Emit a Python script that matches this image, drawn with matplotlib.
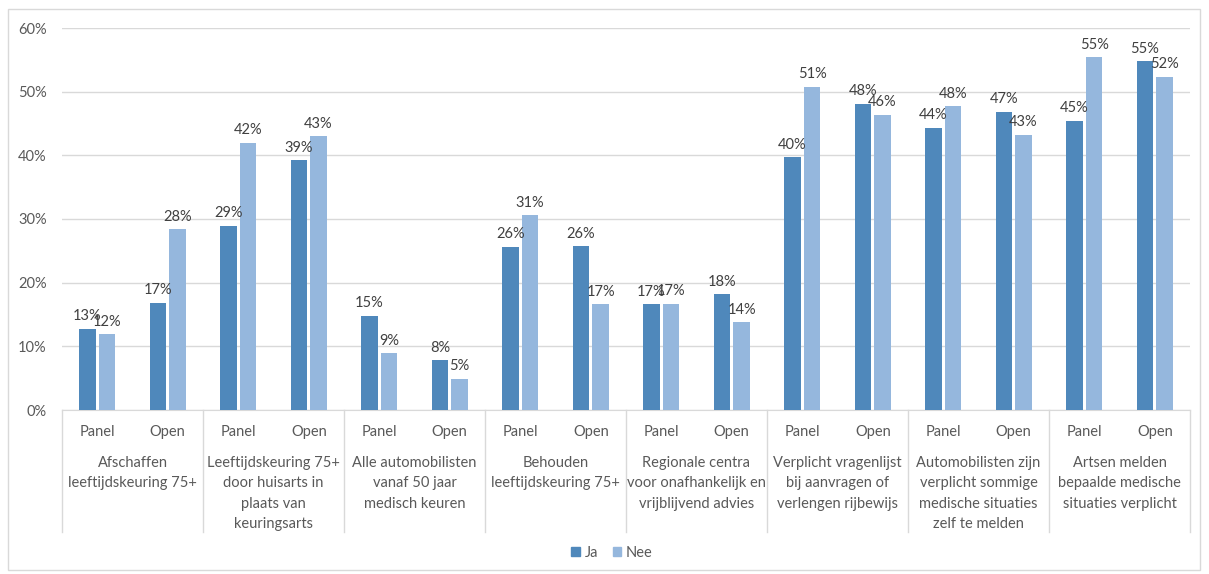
import matplotlib.pyplot as plt
import matplotlib.transforms as mtransforms
from matplotlib.patches import Rectangle, Patch

plt.rcParams['font.family'] = ['Lato', 'DejaVu Sans']

# data (percent)
groups = [
    "Afschaffen\nleeftijdskeuring 75+",
    "Leeftijdskeuring 75+\ndoor huisarts in\nplaats van\nkeuringsarts",
    "Alle automobilisten\nvanaf 50 jaar\nmedisch keuren",
    "Behouden\nleeftijdskeuring 75+",
    "Regionale centra\nvoor onafhankelijk en\nvrijblijvend advies",
    "Verplicht vragenlijst\nbij aanvragen of\nverlengen rijbewijs",
    "Automobilisten zijn\nverplicht sommige\nmedische situaties\nzelf te melden",
    "Artsen melden\nbepaalde medische\nsituaties verplicht",
]
subgroups = ["Panel", "Open"]
ja = [12.8, 16.8, 28.9, 39.2, 14.8, 7.8, 25.6, 25.7,
      16.6, 18.2, 39.7, 48.1, 44.3, 46.8, 45.4, 54.8]
nee = [11.9, 28.4, 42.0, 43.0, 8.9, 4.9, 30.6, 16.6,
       16.7, 13.8, 50.8, 46.4, 47.7, 43.2, 55.4, 52.3]
yticks = [0, 10, 20, 30, 40, 50, 60]

W, H = 1209, 574
ja_color = "#4f88bb"
nee_color = "#95b7dd"
grid_color = "#d9d9d9"
text_color = "#595959"

fig = plt.figure(figsize=(W / 100, H / 100), dpi=100)
ax = fig.add_axes([62 / W, 1 - 410 / H, (1190 - 62) / W, (410 - 28) / H])

n = len(ja)
xs = list(range(n))
off = 0.14
bw = 0.235
b1 = ax.bar([x - off for x in xs], ja, width=bw, color=ja_color, label="Ja", zorder=3)
b2 = ax.bar([x + off for x in xs], nee, width=bw, color=nee_color, label="Nee", zorder=3)
ax.bar_label(b1, labels=[f"{round(v)}%" for v in ja], padding=4, fontsize=10.5, color="#404040")
ax.bar_label(b2, labels=[f"{round(v)}%" for v in nee], padding=4, fontsize=10.5, color="#404040")

ax.set_xlim(-0.5, n - 0.5)
ax.set_ylim(0, 60)
ax.set_yticks(yticks)
ax.set_yticklabels([f"{t}%" for t in yticks], fontsize=10.5, color=text_color)
ax.tick_params(axis="y", length=0, pad=11)
ax.set_xticks([])
ax.grid(axis="y", color=grid_color, linewidth=1, zorder=0)
for s in ["top", "right", "left"]:
    ax.spines[s].set_visible(False)
ax.spines["bottom"].set_color(grid_color)

# hierarchical category axis
trans = mtransforms.blended_transform_factory(ax.transData, fig.transFigure)
for i in range(n):
    ax.text(i, 1 - 432 / H, subgroups[i % 2], transform=trans, ha="center", va="center",
            fontsize=10.5, color=text_color)
for g, name in enumerate(groups):
    ax.text(2 * g + 0.5, 1 - 456 / H, name, transform=trans, ha="center", va="top",
            fontsize=10.5, color=text_color, linespacing=1.57)
for g in range(len(groups) + 1):
    xb = 2 * g - 0.5
    ax.plot([xb, xb], [1 - 410 / H, 1 - 532 / H], transform=trans, color=grid_color,
            linewidth=1, clip_on=False)

# outer chart border
fig.patches.append(Rectangle((8 / W, 1 - 570 / H), (1200 - 8) / W, (570 - 9) / H,
                             transform=fig.transFigure, fill=False,
                             edgecolor=grid_color, linewidth=1))

handles = [Patch(color=ja_color, label="Ja"), Patch(color=nee_color, label="Nee")]
fig.legend(handles=handles, loc="center", bbox_to_anchor=(612 / W, 1 - 553 / H), ncol=2,
           frameon=False, fontsize=10.5, handlelength=0.6, handleheight=0.6,
           handletextpad=0.3, columnspacing=1.0, labelcolor=text_color)

fig.savefig("out.png", dpi=100)
